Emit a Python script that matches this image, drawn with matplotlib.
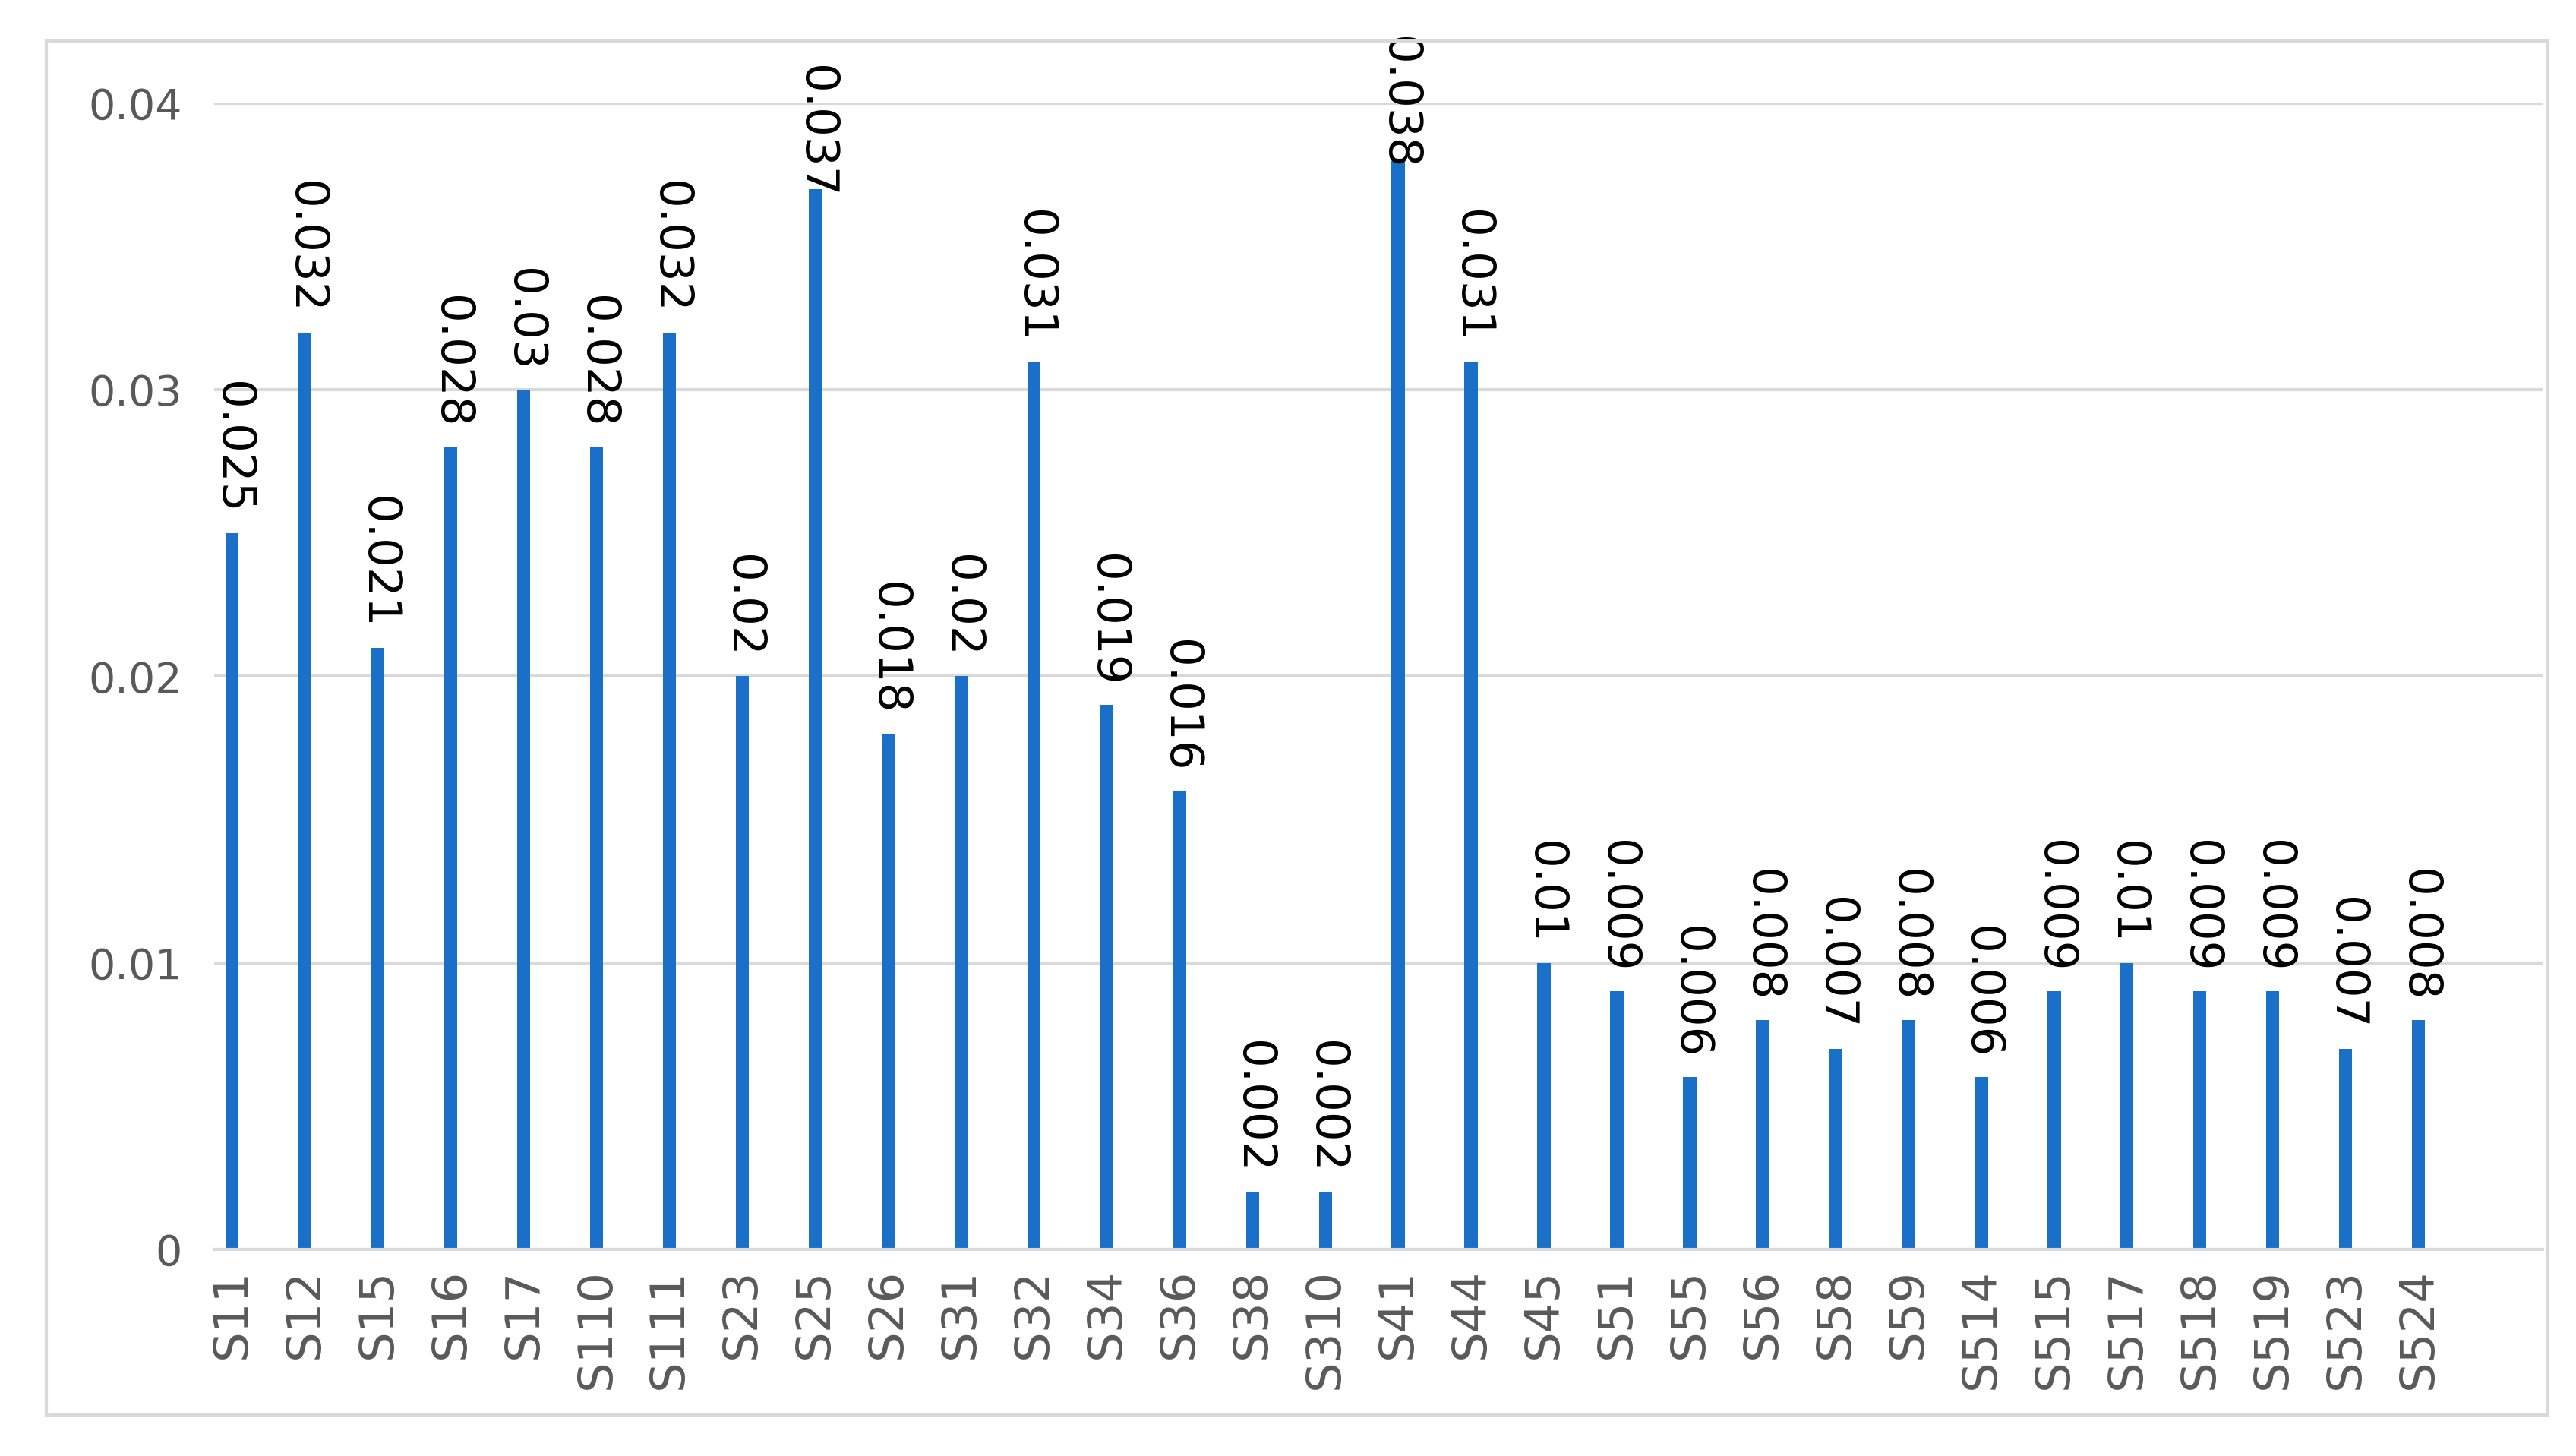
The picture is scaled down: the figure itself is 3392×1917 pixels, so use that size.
import matplotlib
matplotlib.use('Agg')
from matplotlib import pyplot as plt
from matplotlib.patches import Rectangle

categories = ['S11', 'S12', 'S15', 'S16', 'S17', 'S110', 'S111', 'S23', 'S25', 'S26',
              'S31', 'S32', 'S34', 'S36', 'S38', 'S310', 'S41', 'S44', 'S45', 'S51',
              'S55', 'S56', 'S58', 'S59', 'S514', 'S515', 'S517', 'S518', 'S519',
              'S523', 'S524']
values = [0.025, 0.032, 0.021, 0.028, 0.03, 0.028, 0.032, 0.02, 0.037, 0.018,
          0.02, 0.031, 0.019, 0.016, 0.002, 0.002, 0.038, 0.031, 0.01, 0.009,
          0.006, 0.008, 0.007, 0.008, 0.006, 0.009, 0.01, 0.009, 0.009,
          0.007, 0.008]
labels = ['0.025', '0.032', '0.021', '0.028', '0.03', '0.028', '0.032', '0.02', '0.037', '0.018',
          '0.02', '0.031', '0.019', '0.016', '0.002', '0.002', '0.038', '0.031', '0.01', '0.009',
          '0.006', '0.008', '0.007', '0.008', '0.006', '0.009', '0.01', '0.009', '0.009',
          '0.007', '0.008']
yticks = [0, 0.01, 0.02, 0.03, 0.04]
ytick_labels = ['0', '0.01', '0.02', '0.03', '0.04']

fig = plt.figure(figsize=(33.92, 19.17), dpi=100)
fig.patches.append(Rectangle((0.018, 0.028), 0.971, 0.944, transform=fig.transFigure,
                             fill=False, edgecolor='#d9d9d9', linewidth=3))
ax = fig.add_axes([0.083, 0.142, 0.904, 0.787])

x = range(len(categories))
ax.bar(x, values, width=0.18, color='#1a6fc9', zorder=3)
for i, (v, lab) in enumerate(zip(values, labels)):
	# the two tallest labels are pushed down onto the bar, as in the original
	off = 18 if v < 0.035 else -8
	ax.annotate(lab, (i, v), xytext=(0, off), textcoords='offset points',
	            rotation=-90, ha='center', va='bottom', fontsize=44, color='black', zorder=5)

ax.set_ylim(0, 0.04)
ax.set_xlim(-0.25, 31.7)
ax.set_yticks(yticks)
ax.set_yticklabels(ytick_labels)
ax.set_xticks(list(x))
ax.set_xticklabels(categories, rotation=90)
ax.tick_params(axis='both', length=0, labelcolor='#595959')
ax.tick_params(axis='y', pad=30, labelsize=40)
ax.tick_params(axis='x', pad=18, labelsize=45)
ax.yaxis.grid(True, color='#d9d9d9', linewidth=3)
for s in ['top', 'right', 'left']:
	ax.spines[s].set_visible(False)
ax.spines['bottom'].set_color('#d9d9d9')
ax.spines['bottom'].set_linewidth(3)
ax.spines['bottom'].set_zorder(4)

fig.savefig('out.png')
